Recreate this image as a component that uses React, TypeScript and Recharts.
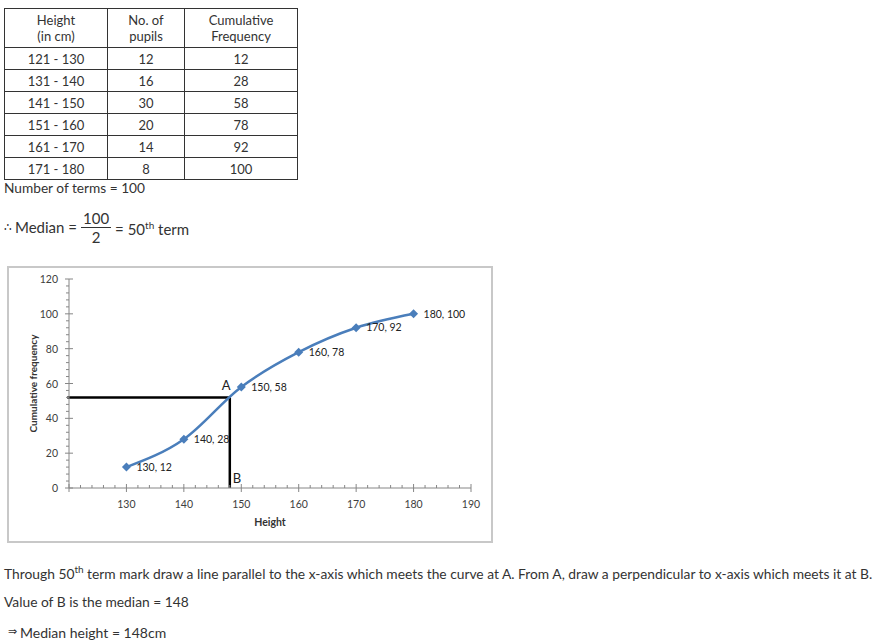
import React from "react";
import {
  ComposedChart,
  Line,
  XAxis,
  YAxis,
  LabelList,
  ReferenceLine,
  ReferenceDot,
} from "recharts";

// table data
const classIntervals = ["121 - 130", "131 - 140", "141 - 150", "151 - 160", "161 - 170", "171 - 180"];
const pupils = [12, 16, 30, 20, 14, 8];
const cumulative = [12, 28, 58, 78, 92, 100];

// ogive points (upper class limits)
const heights = [130, 140, 150, 160, 170, 180];

// median construction
const medianHeight = 148;
const medianLevel = 52;

// axis ticks
const xTicks = [
  120, 122, 124, 126, 128, 130, 132, 134, 136, 138, 140, 142, 144, 146, 148, 150, 152, 154,
  156, 158, 160, 162, 164, 166, 168, 170, 172, 174, 176, 178, 180, 182, 184, 186, 188, 190,
];
const yTicks = [
  0, 4, 8, 12, 16, 20, 24, 28, 32, 36, 40, 44, 48, 52, 56, 60, 64, 68, 72, 76, 80, 84, 88, 92,
  96, 100, 104, 108, 112, 116, 120,
];

const chartData = heights.map((h, i) => ({ h, cf: cumulative[i], label: `${h}, ${cumulative[i]}` }));

const FONT = "Lato, 'Open Sans', sans-serif";
const TEXT = "#333";
const AXIS = "#868686";
const SERIES = "#4a7ebb";

function XTick(props: any) {
  const { x, y, payload } = props;
  const v = payload.value;
  const major = v % 10 === 0;
  return (
    <g>
      <line x1={x} x2={x} y1={major ? y - 4 : y - 3} y2={major ? y + 4 : y} stroke={AXIS} />
      {major && v !== 120 ? (
        <text x={x} y={y + 16} textAnchor="middle" dominantBaseline="central" fontSize={10.5} fill="#404040" fontFamily={FONT}>
          {v}
        </text>
      ) : null}
    </g>
  );
}

function YTick(props: any) {
  const { x, y, payload } = props;
  const v = payload.value;
  const major = v % 20 === 0;
  return (
    <g>
      <line x1={major ? x - 4 : x - 3} x2={major ? x + 4 : x} y1={y} y2={y} stroke={AXIS} />
      {major ? (
        <text x={x - 11} y={y} textAnchor="end" dominantBaseline="central" fontSize={10.5} fill="#404040" fontFamily={FONT}>
          {v}
        </text>
      ) : null}
    </g>
  );
}

function Diamond(props: any) {
  const { cx, cy } = props;
  if (cx == null || cy == null) return null;
  const r = 4.5;
  return <path d={`M${cx},${cy - r}L${cx + r},${cy}L${cx},${cy + r}L${cx - r},${cy}Z`} fill={SERIES} />;
}

function PointLabel(label: string, dx: number, dy: number) {
  return (p: any) => {
    const vb = p.viewBox || {};
    const cx = vb.x ?? p.x;
    const cy = vb.y ?? p.y;
    return (
      <text x={cx + dx} y={cy + dy} fontSize={13} fontFamily={FONT} fill="#222">
        {label}
      </text>
    );
  };
}

function ChartBlock() {
  return (
    <div
      style={{
        position: "absolute",
        left: 7,
        top: 266,
        width: 486,
        height: 277,
        border: "2px solid #c8c8c8",
        boxSizing: "border-box",
        background: "#fff",
      }}
    >
      <ComposedChart width={482} height={273} data={chartData} margin={{ top: 11, right: 20, left: 0, bottom: 0 }}>
        <XAxis
          type="number"
          dataKey="h"
          domain={[120, 190]}
          ticks={xTicks}
          interval={0}
          tickSize={0}
          tickMargin={0}
          tickLine={false}
          tick={<XTick />}
          axisLine={{ stroke: AXIS }}
          height={53}
          label={{ value: "Height", position: "insideBottom", offset: 15, fontSize: 10.5, fontWeight: 700, fill: "#333", fontFamily: FONT }}
        />
        <YAxis
          type="number"
          domain={[0, 120]}
          ticks={yTicks}
          interval={0}
          tickSize={0}
          tickMargin={0}
          tickLine={false}
          tick={<YTick />}
          axisLine={{ stroke: AXIS }}
          width={60}
          label={{
            value: "Cumulative frequency",
            angle: -90,
            position: "insideLeft",
            offset: 24,
            fontSize: 10,
            fontWeight: 700,
            fill: "#333",
            fontFamily: FONT,
            style: { textAnchor: "middle" },
          }}
        />
        <ReferenceLine
          segment={[{ x: 119.7, y: medianLevel }, { x: medianHeight, y: medianLevel }]}
          stroke="#000"
          strokeWidth={2.5}
          ifOverflow="visible"
        />
        <ReferenceLine
          segment={[{ x: medianHeight, y: medianLevel }, { x: medianHeight, y: 0 }]}
          stroke="#000"
          strokeWidth={2.5}
          ifOverflow="visible"
        />
        <Line
          type="monotone"
          dataKey="cf"
          stroke={SERIES}
          strokeWidth={2.5}
          dot={<Diamond />}
          activeDot={false}
          isAnimationActive={false}
        >
          <LabelList
            dataKey="label"
            position="right"
            offset={10}
            fontSize={10.5}
            fill="#222"
            fontFamily={FONT}
          />
        </Line>
        <ReferenceDot x={medianHeight} y={medianLevel} r={0} fill="none" stroke="none" ifOverflow="visible" label={{ content: PointLabel("A", -8, -7) }} />
        <ReferenceDot x={medianHeight} y={0} r={0} fill="none" stroke="none" ifOverflow="visible" label={{ content: PointLabel("B", 3, -5) }} />
      </ComposedChart>
    </div>
  );
}

const cell: React.CSSProperties = {
  border: "1px solid #333",
  padding: 0,
  textAlign: "center",
  verticalAlign: "middle",
};

export default function App() {
  return (
    <div style={{ position: "relative", width: 879, height: 643, fontFamily: FONT, color: TEXT, fontSize: 13, background: "#fff" }}>
      <style>{`body{margin:0}`}</style>
      <table
        style={{
          position: "absolute",
          left: 4,
          top: 8,
          borderCollapse: "collapse",
          tableLayout: "fixed",
          fontSize: 13,
          lineHeight: "16px",
          color: TEXT,
        }}
      >
        <colgroup>
          <col style={{ width: 103 }} />
          <col style={{ width: 77 }} />
          <col style={{ width: 113 }} />
        </colgroup>
        <tbody>
          <tr style={{ height: 39 }}>
            <td style={cell}>Height<br />(in cm)</td>
            <td style={cell}>No. of<br />pupils</td>
            <td style={cell}>Cumulative<br />Frequency</td>
          </tr>
          {classIntervals.map((c, i) => (
            <tr key={c} style={{ height: 22 }}>
              <td style={cell}>{c}</td>
              <td style={cell}>{pupils[i]}</td>
              <td style={cell}>{cumulative[i]}</td>
            </tr>
          ))}
        </tbody>
      </table>

      <div style={{ position: "absolute", left: 4, top: 180, lineHeight: "16px", fontSize: 13.7 }}>Number of terms = 100</div>

      <div style={{ position: "absolute", left: 4, top: 205, height: 44, display: "flex", alignItems: "center", lineHeight: "18px", fontSize: 15 }}>
        <span style={{ marginRight: 3, fontSize: 12 }}>∴</span>
        <span>Median =</span>
        <span style={{ display: "inline-flex", flexDirection: "column", alignItems: "center", margin: "0 4px" }}>
          <span style={{ padding: "0 2px" }}>100</span>
          <span style={{ borderTop: "1px solid #333", alignSelf: "stretch", textAlign: "center" }}>2</span>
        </span>
        <span>= 50<sup style={{ fontSize: 10 }}>th</sup> term</span>
      </div>

      <ChartBlock />

      <div style={{ position: "absolute", left: 4, top: 561, lineHeight: "16px", whiteSpace: "nowrap", fontSize: 13.8 }}>
        Through 50<sup style={{ fontSize: 10 }}>th</sup> term mark draw a line parallel to the x-axis which meets the curve at A. From A, draw a perpendicular to x-axis which meets it at B.
      </div>
      <div style={{ position: "absolute", left: 4, top: 594, lineHeight: "16px", fontSize: 13.8 }}>Value of B is the median = 148</div>
      <div style={{ position: "absolute", left: 4, top: 623, lineHeight: "16px", fontSize: 14 }}>
        <span style={{ fontSize: 11, marginLeft: 4, marginRight: 3, verticalAlign: "3px" }}>⇒</span>Median height = 148cm
      </div>
    </div>
  );
}
